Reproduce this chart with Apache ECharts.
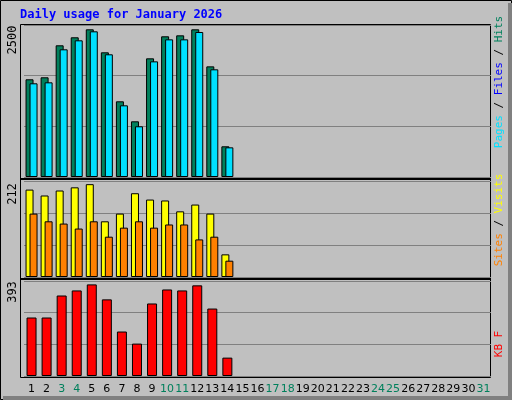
<!DOCTYPE html>
<html lang="en">
<head>
    <meta charset="UTF-8">
    <title>Daily usage</title>
    <style>
        * { margin: 0; padding: 0; }
        body { background: #c0c0c0; }
        .mychart { width: 512px; height: 400px; }
    </style>
</head>
<body>
    <div class="mychart"></div>
</body>
<script src="https://cdn.jsdelivr.net/npm/echarts@6/dist/echarts.min.js"></script>
<script>
    const days = []
    for (let d = 1; d <= 31; d++) days.push(String(d))
    const weekends = ['3', '4', '10', '11', '17', '18', '24', '25', '31']

    const hits = [1607, 1640, 2166, 2298, 2429, 2051, 1245, 916, 1952, 2314, 2330, 2429, 1820, 505]
    const pages = [1541, 1557, 2100, 2248, 2396, 2018, 1179, 834, 1902, 2264, 2264, 2385, 1771, 488]
    const visits = [193, 180, 191, 198, 205, 123, 140, 185, 171, 169, 145, 160, 140, 50]
    const sites = [140, 123, 118, 107, 123, 89, 109, 123, 109, 116, 116, 83, 89, 36]
    const kbytes = [242, 242, 333, 354, 379, 317, 184, 134, 300, 358, 354, 375, 279, 76]

    const maxHits = 2500, maxVisits = 212, maxKb = 393

    const font = 'DejaVu Sans Mono'
    const myChart = echarts.init(document.querySelector('.mychart'))

    // three panels stacked
    const panels = [
        { top: 25, height: 152, max: maxHits },
        { top: 181, height: 96, max: maxVisits },
        { top: 281, height: 95, max: maxKb }
    ]

    const xAxis = panels.map((p, i) => ({
        type: 'category', gridIndex: i, data: days,
        axisLine: { show: false }, axisTick: { show: false },
        axisLabel: i === 2 ? {
            fontFamily: 'DejaVu Sans', fontSize: 11, margin: 8, interval: 0,
            color: (v) => weekends.includes(v) ? '#00805c' : '#000'
        } : { show: false }
    }))
    const yAxis = panels.map((p, i) => ({
        type: 'value', gridIndex: i, min: 0, max: p.max, interval: p.max / 3,
        axisLabel: { show: false }, axisLine: { show: false }, axisTick: { show: false },
        splitLine: { lineStyle: { color: '#808080', width: 1 } }
    }))

    const bar = (name, data, color, idx, extra) => Object.assign({
        type: 'bar', name, data, xAxisIndex: idx, yAxisIndex: idx,
        itemStyle: { color, borderColor: '#000', borderWidth: 1 },
        animation: false
    }, extra)

    const vtext = (x, y, parts, size) => ({
        type: 'text', x, y, rotation: Math.PI / 2,
        style: {
            text: parts.map((p, i) => '{s' + i + '|' + p[0] + '}').join(''),
            rich: Object.fromEntries(parts.map((p, i) => ['s' + i, { fill: p[1], fontFamily: font, fontSize: size || 11 }])),
            align: 'center', verticalAlign: 'middle'
        }
    })

    const config = {
        animation: false,
        grid: panels.map(p => ({ left: 24, right: 21, top: p.top, height: p.height })),
        xAxis, yAxis,
        series: [
            bar('Hits', hits, '#00805c', 0, { barWidth: 8, barGap: '-50%' }),
            bar('Pages', pages, '#00e0ff', 0, { barWidth: 8 }),
            bar('Visits', visits, '#ffff00', 1, { barWidth: 8, barGap: '-50%' }),
            bar('Sites', sites, '#ff8000', 1, { barWidth: 8 }),
            bar('KBytes', kbytes, '#ff0000', 2, { barWidth: 10 })
        ],
        graphic: [
            { type: 'rect', shape: { x: 0.5, y: 0.5, width: 511, height: 399 }, style: { fill: 'none', stroke: '#000' } },
            { type: 'rect', shape: { x: 508, y: 3, width: 4, height: 397 }, style: { fill: '#808080' } },
            { type: 'rect', shape: { x: 3, y: 396, width: 509, height: 4 }, style: { fill: '#808080' } },
            { type: 'rect', shape: { x: 20.5, y: 24.5, width: 470, height: 353 }, style: { fill: 'none', stroke: '#000' } },
            { type: 'line', shape: { x1: 21, y1: 179, x2: 490, y2: 179 }, style: { stroke: '#000', lineWidth: 2 } },
            { type: 'line', shape: { x1: 21, y1: 279, x2: 490, y2: 279 }, style: { stroke: '#000', lineWidth: 2 } },
            {
                type: 'text', x: 20, y: 9,
                style: { text: 'Daily usage for January 2026', fill: '#0000ff', fontFamily: font, fontSize: 12, fontWeight: 'bold' }
            },
            vtext(13, 40, [[String(maxHits), '#000']], 12),
            vtext(13, 194, [[String(maxVisits), '#000']], 12),
            vtext(13, 292, [[String(maxKb), '#000']], 12),
            vtext(499, 82, [['Pages', '#00e0ff'], [' / ', '#000'], ['Files', '#0000ff'], [' / ', '#000'], ['Hits', '#00805c']]),
            vtext(499, 220, [['Sites', '#ff8000'], [' / ', '#000'], ['Visits', '#ffff00']]),
            vtext(499, 344, [['KB F', '#ff0000']])
        ]
    }
    myChart.setOption(config)
</script>
</html>
